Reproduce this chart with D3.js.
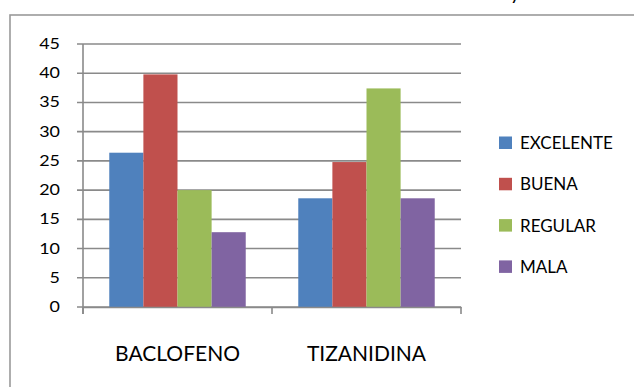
<!DOCTYPE html>
<html>
<head>
<meta charset="utf-8">
<script src="https://cdn.jsdelivr.net/npm/d3@7"></script>
<style>
  html, body { margin: 0; padding: 0; background: #fff; }
  svg { display: block; }
  text { font-family: Lato, "Open Sans", sans-serif; fill: #000; }
</style>
</head>
<body>
<svg id="chart" width="634" height="387"></svg>
<script>
// Ratings per drug (percent of patients)
const categories = ["BACLOFENO", "TIZANIDINA"];
const series = ["EXCELENTE", "BUENA", "REGULAR", "MALA"];
const excelente = [26.4, 18.6];
const buena = [39.8, 24.8];
const regular = [20.0, 37.4];
const mala = [12.8, 18.6];
const yTicks = [0, 5, 10, 15, 20, 25, 30, 35, 40, 45];
const colors = ["#4F81BD", "#C0504D", "#9BBB59", "#8064A2"];

const seriesValues = [excelente, buena, regular, mala];

const svg = d3.select("#chart");

// outer chart frame (continues past the right and bottom edges)
svg.append("rect")
  .attr("x", 10).attr("y", 15)
  .attr("width", 700).attr("height", 500)
  .attr("fill", "#fff")
  .attr("stroke", "#9a9a9a")
  .attr("stroke-width", 1.6);

// title line sits above the frame; only its descender shows
svg.append("text")
  .attr("x", 510).attr("y", 0)
  .style("font-size", "20px")
  .text("y");

const plot = { left: 83, right: 461, top: 44, bottom: 307 };

const y = d3.scaleLinear().domain([0, 45]).range([plot.bottom, plot.top]);
const x0 = d3.scaleBand().domain(categories).range([plot.left, plot.right]).padding(0);
const x1 = d3.scaleBand().domain(series).range([0, x0.bandwidth()])
  .paddingInner(0).paddingOuter(0.77);

// horizontal gridlines with outward tick marks
svg.append("g").selectAll("line")
  .data(yTicks)
  .join("line")
  .attr("x1", plot.left - 6).attr("x2", plot.right)
  .attr("y1", d => y(d)).attr("y2", d => y(d))
  .attr("stroke", "#8a8a8a")
  .attr("stroke-width", 1.6);

// y tick labels
svg.append("g").selectAll("text")
  .data(yTicks)
  .join("text")
  .attr("x", 60)
  .attr("y", d => y(d) + 1)
  .attr("text-anchor", "end")
  .attr("dominant-baseline", "middle")
  .style("font-size", "16px")
  .attr("transform", d => `translate(60,0) scale(1.12,1) translate(-60,0)`)
  .text(d => d);

// bars
const groups = svg.append("g").selectAll("g")
  .data(categories)
  .join("g")
  .attr("transform", c => `translate(${x0(c)},0)`);

groups.selectAll("rect")
  .data((c, i) => series.map((s, j) => ({ s, v: seriesValues[j][i], j })))
  .join("rect")
  .attr("x", d => x1(d.s))
  .attr("width", x1.bandwidth())
  .attr("y", d => y(d.v))
  .attr("height", d => y(0) - y(d.v))
  .attr("fill", d => colors[d.j]);

// axes lines
svg.append("line")
  .attr("x1", plot.left).attr("x2", plot.left)
  .attr("y1", plot.top).attr("y2", plot.bottom + 7)
  .attr("stroke", "#8a8a8a").attr("stroke-width", 1.6);

const xAxis = d3.axisBottom(x0).tickSize(0).tickFormat("");
svg.append("g")
  .attr("transform", `translate(0,${plot.bottom})`)
  .call(xAxis)
  .call(g => g.select(".domain").attr("stroke", "#8a8a8a").attr("stroke-width", 1.6));

// category boundary ticks
const bounds = [plot.left, ...categories.slice(1).map(c => x0(c)), plot.right];
svg.append("g").selectAll("line")
  .data(bounds)
  .join("line")
  .attr("x1", d => d).attr("x2", d => d)
  .attr("y1", plot.bottom).attr("y2", plot.bottom + 7)
  .attr("stroke", "#8a8a8a").attr("stroke-width", 1.6);

// category labels
svg.append("g").selectAll("text")
  .data(categories)
  .join("text")
  .attr("x", c => x0(c) + x0.bandwidth() / 2)
  .attr("y", 361)
  .attr("text-anchor", "middle")
  .style("font-size", "21px")
  .text(c => c);

// legend
const legend = svg.append("g").selectAll("g")
  .data(series)
  .join("g")
  .attr("transform", (s, i) => `translate(499,${136.5 + i * 41.3})`);

legend.append("rect")
  .attr("width", 13).attr("height", 12.5)
  .attr("fill", (s, i) => colors[i]);

legend.append("text")
  .attr("x", 21)
  .attr("y", 12.5)
  .style("font-size", "17px")
  .text(s => s);
</script>
</body>
</html>
